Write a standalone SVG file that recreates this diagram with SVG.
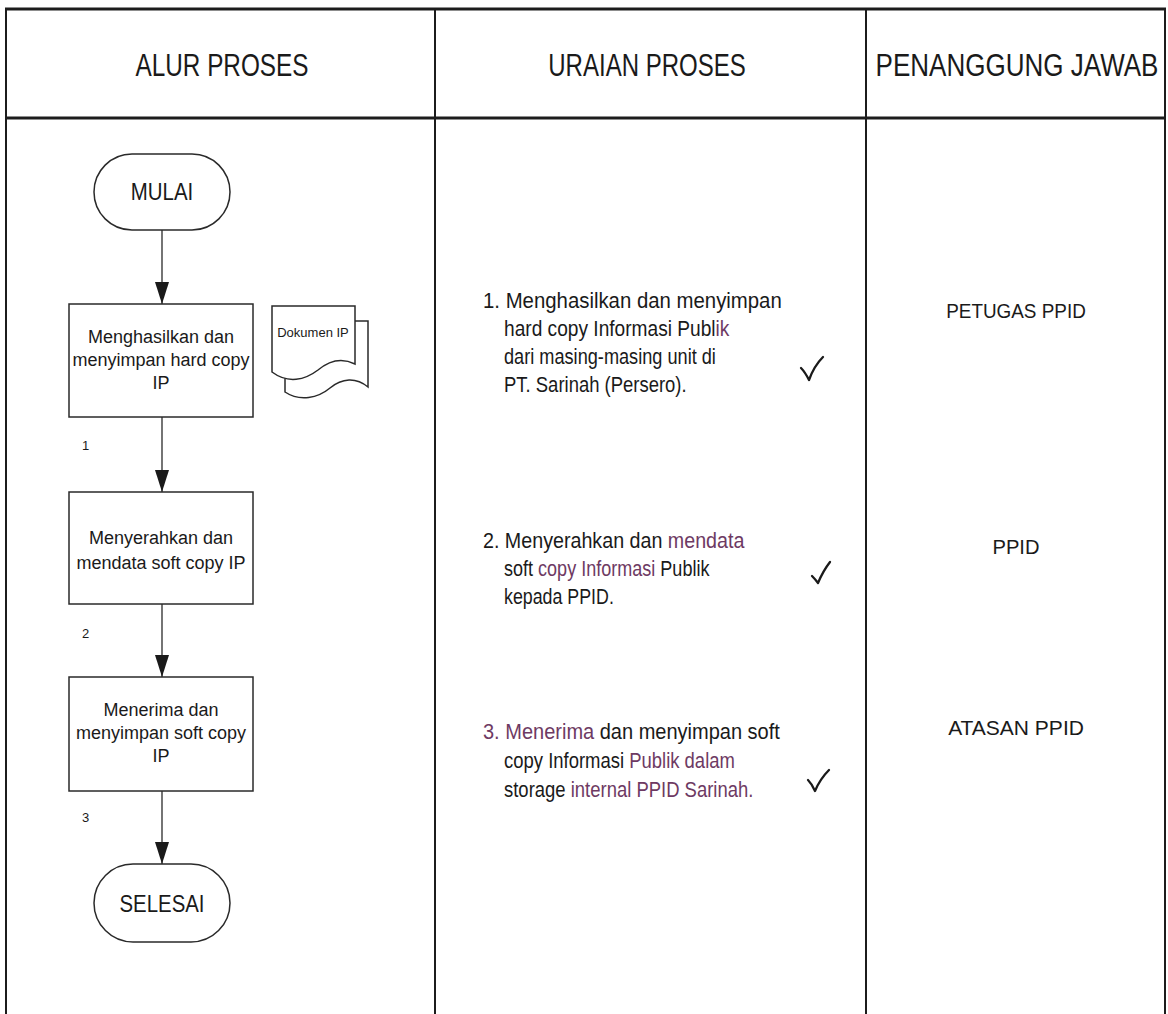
<svg xmlns="http://www.w3.org/2000/svg" width="1168" height="1014" viewBox="0 0 1168 1014">
<defs>
<style>
.bg{fill:#fff}
.grid{stroke:#1c1c1c;stroke-width:2;fill:none}
.thick{stroke:#1c1c1c;stroke-width:3;fill:none}
.shape{fill:#fff;stroke:#2a2a2a;stroke-width:1.5}
.conn{stroke:#2a2a2a;stroke-width:1.3;fill:none}
.t{font-family:"Liberation Sans",Arial,sans-serif;fill:#1a1a1a}
.hdr{font-size:31px}
.term{font-size:24px}
.box{font-size:18px}
.small{font-size:13px}
.doc{font-size:13px}
.desc{font-size:22px}
.resp{font-size:21px}
.mid{text-anchor:middle}
.pur{fill:#6e3a63}
.tick{stroke:#1a1a1a;stroke-width:2.3;fill:none;stroke-linecap:round;stroke-linejoin:round}
</style>
<marker id="arr" markerUnits="userSpaceOnUse" markerWidth="22" markerHeight="14" refX="22" refY="7" orient="auto">
<path d="M0,0 L22,7 L0,14 z" fill="#1a1a1a"/>
</marker>
</defs>
<rect class="bg" x="0" y="0" width="1168" height="1014"/>

<g id="table">
<line class="thick" x1="5" y1="9" x2="1166" y2="9"/>
<line class="thick" x1="5" y1="118" x2="1166" y2="118"/>
<line class="grid" x1="6" y1="8" x2="6" y2="1014"/>
<line class="grid" x1="435" y1="8" x2="435" y2="1014"/>
<line class="grid" x1="866" y1="8" x2="866" y2="1014"/>
<line class="grid" x1="1165" y1="8" x2="1165" y2="1014"/>
<text class="t hdr mid" transform="translate(222,76) scale(0.785,1)">ALUR PROSES</text>
<text class="t hdr mid" transform="translate(647,76) scale(0.775,1)">URAIAN PROSES</text>
<text class="t hdr mid" transform="translate(1017,76) scale(0.84,1)">PENANGGUNG JAWAB</text>
</g>

<g id="connectors">
<line class="conn" x1="162" y1="230" x2="162" y2="304" marker-end="url(#arr)"/>
<line class="conn" x1="162" y1="417" x2="162" y2="492" marker-end="url(#arr)"/>
<line class="conn" x1="162" y1="604" x2="162" y2="677" marker-end="url(#arr)"/>
<line class="conn" x1="162" y1="791" x2="162" y2="864" marker-end="url(#arr)"/>
<text class="t small" x="82" y="450">1</text>
<text class="t small" x="82" y="638">2</text>
<text class="t small" x="82" y="822">3</text>
</g>

<g id="mulai">
<rect class="shape" x="94" y="154" width="136" height="76" rx="38" ry="38"/>
<text class="t term mid" transform="translate(162,200) scale(0.85,1)">MULAI</text>
</g>

<g id="step1">
<rect class="shape" x="69" y="304" width="184" height="113"/>
<text class="t box mid"><tspan x="161" y="343">Menghasilkan dan</tspan><tspan x="161" y="366">menyimpan hard copy</tspan><tspan x="161" y="389">IP</tspan></text>
</g>

<g id="dokumen">
<path class="shape" d="M285,380 V321 H368 V387 C356,377 342,378 330,388 C318,398 300,402 285,392 Z"/>
<path class="shape" d="M272,306 H355 V364 C343,358 330,360 318,370 C305,380 288,384 272,372 Z"/>
<text class="t doc mid" x="313" y="337">Dokumen IP</text>
</g>

<g id="step2">
<rect class="shape" x="69" y="492" width="184" height="112"/>
<text class="t box mid"><tspan x="161" y="544">Menyerahkan dan</tspan><tspan x="161" y="569">mendata soft copy IP</tspan></text>
</g>

<g id="step3">
<rect class="shape" x="69" y="677" width="184" height="114"/>
<text class="t box mid"><tspan x="161" y="716">Menerima dan</tspan><tspan x="161" y="739">menyimpan soft copy</tspan><tspan x="161" y="762">IP</tspan></text>
</g>

<g id="selesai">
<rect class="shape" x="94" y="864" width="136" height="78" rx="39" ry="39"/>
<text class="t term mid" transform="translate(162,912) scale(0.85,1)">SELESAI</text>
</g>

<g id="uraian1">
<text class="t desc" transform="translate(483,308) scale(0.926,1)">1. Menghasilkan dan menyimpan</text>
<text class="t desc" transform="translate(504,336) scale(0.87,1)">hard copy Informasi Publ<tspan class="pur">ik</tspan></text>
<text class="t desc" transform="translate(504,364) scale(0.826,1)">dari masing-masing unit di</text>
<text class="t desc" transform="translate(504,392) scale(0.84,1)">PT. Sarinah (Persero).</text>
<path class="tick" d="M801,368 Q805,372 809,380 Q814,366 823,357"/>
</g>

<g id="uraian2">
<text class="t desc" transform="translate(483,548) scale(0.895,1)">2. Menyerahkan dan <tspan class="pur">mendata</tspan></text>
<text class="t desc" transform="translate(504,576) scale(0.82,1)">soft <tspan class="pur">copy Informasi</tspan> Publik</text>
<text class="t desc" transform="translate(504,604) scale(0.81,1)">kepada PPID.</text>
<path class="tick" d="M812,576 Q815,579 818,583 Q823,571 830,562"/>
</g>

<g id="uraian3">
<text class="t desc" transform="translate(483,739) scale(0.91,1)"><tspan class="pur">3. Menerima</tspan> dan menyimpan soft</text>
<text class="t desc" transform="translate(504,768) scale(0.84,1)">copy Informasi <tspan class="pur">Publik dalam</tspan></text>
<text class="t desc" transform="translate(504,797) scale(0.84,1)">storage <tspan class="pur">internal PPID Sarinah.</tspan></text>
<path class="tick" d="M808,780 Q812,784 815,791 Q820,779 829,770"/>
</g>

<g id="pj1"><text class="t resp mid" transform="translate(1016,318) scale(0.9,1)">PETUGAS PPID</text></g>
<g id="pj2"><text class="t resp mid" transform="translate(1016,554) scale(0.96,1)">PPID</text></g>
<g id="pj3"><text class="t resp mid" transform="translate(1016,735)">ATASAN PPID</text></g>
</svg>
